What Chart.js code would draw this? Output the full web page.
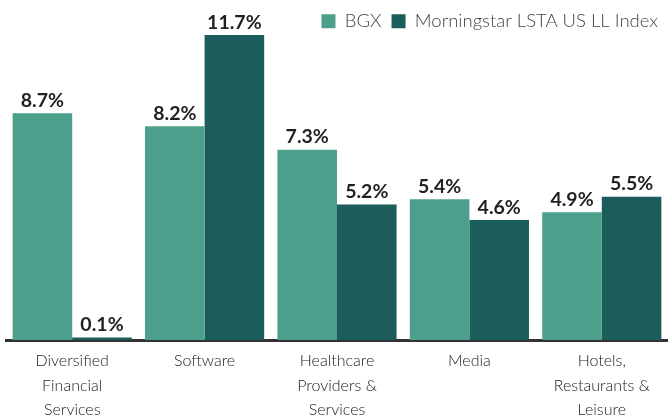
<!DOCTYPE html>
<html lang="en">
<head>
    <meta charset="UTF-8">
    <title>BGX vs Morningstar LSTA US LL Index</title>
    <style>
        html, body {
            margin: 0;
            padding: 0;
            background-color: #ffffff;
        }
        #wrap {
            width: 668px;
            height: 419px;
        }
    </style>
    <script src="https://cdn.jsdelivr.net/npm/chart.js"></script>
</head>
<body>
    <div id="wrap"><canvas id="sectorChart" width="668" height="419"></canvas></div>

    <script>
        // categories (each entry is the wrapped label lines)
        const sectors = [
            ['Diversified', 'Financial', 'Services'],
            ['Software'],
            ['Healthcare', 'Providers &', 'Services'],
            ['Media'],
            ['Hotels,', 'Restaurants &', 'Leisure']
        ];
        const bgxValues = [8.7, 8.2, 7.3, 5.4, 4.9];
        const indexValues = [0.1, 11.7, 5.2, 4.6, 5.5];

        const lightGreen = '#4c9f8b';
        const darkGreen = '#1b5d5a';
        const lightFont = 'Lato, "DejaVu Sans", sans-serif';

        // value labels above each bar
        const barLabels = {
            id: 'barLabels',
            afterDatasetsDraw(chart) {
                const ctx = chart.ctx;
                ctx.save();
                ctx.font = 'bold 19.5px Lato, "DejaVu Sans", sans-serif';
                ctx.fillStyle = '#231f20';
                ctx.textAlign = 'center';
                ctx.textBaseline = 'bottom';
                chart.data.datasets.forEach((ds, i) => {
                    chart.getDatasetMeta(i).data.forEach((bar, j) => {
                        ctx.fillText(ds.data[j].toFixed(1) + '%', bar.x, bar.y - 3);
                    });
                });
                ctx.restore();
            }
        };

        new Chart(document.getElementById('sectorChart').getContext('2d'), {
            type: 'bar',
            data: {
                labels: sectors,
                datasets: [
                    { label: 'BGX', data: bgxValues, backgroundColor: lightGreen },
                    { label: 'Morningstar LSTA US LL Index', data: indexValues, backgroundColor: darkGreen }
                ]
            },
            options: {
                responsive: false,
                animation: false,
                layout: { padding: { top: 2, left: 6, right: 0, bottom: 0 } },
                datasets: {
                    bar: { categoryPercentage: 0.9, barPercentage: 1.0, clip: false }
                },
                plugins: {
                    tooltip: { enabled: false },
                    legend: {
                        position: 'top',
                        align: 'end',
                        labels: {
                            boxWidth: 14,
                            boxHeight: 14,
                            padding: 10,
                            color: '#444444',
                            font: { family: lightFont, size: 18.5, weight: '300' }
                        }
                    }
                },
                scales: {
                    x: {
                        grid: { display: false },
                        border: { display: true, color: '#333333', width: 3 },
                        ticks: {
                            color: '#222222',
                            padding: 1,
                            maxRotation: 0,
                            autoSkip: false,
                            font: { family: lightFont, size: 16, weight: '300', lineHeight: 1.52 }
                        },
                        afterFit(scale) { scale.height = 79; }
                    },
                    y: {
                        display: false,
                        min: 0,
                        max: 11.49
                    }
                }
            },
            plugins: [barLabels]
        });
    </script>
</body>
</html>
